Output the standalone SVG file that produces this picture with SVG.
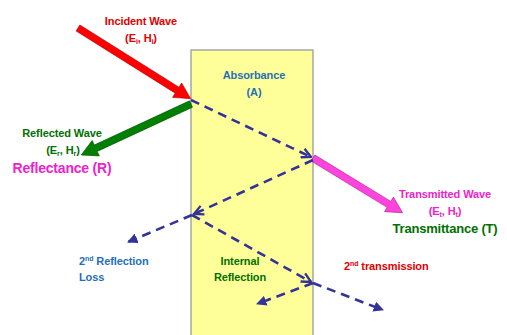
<svg xmlns="http://www.w3.org/2000/svg" width="507" height="335" viewBox="0 0 507 335">
<defs>
<marker id="chev" viewBox="0 0 10 10" refX="9" refY="5" markerWidth="4.5" markerHeight="4.5" orient="auto" markerUnits="strokeWidth">
<path d="M1,1 L9,5 L1,9" fill="none" stroke="#333399" stroke-width="2"/>
</marker>
<marker id="tri" viewBox="0 0 10 10" refX="9" refY="5" markerWidth="4" markerHeight="4" orient="auto" markerUnits="strokeWidth">
<path d="M0,0 L10,5 L0,10 Z" fill="#333399"/>
</marker>
</defs>
<style>
text{font-family:"Liberation Sans",Arial,sans-serif;font-weight:bold;font-size:11px;letter-spacing:-0.1px}
.red{fill:#E00000}
.grn{fill:#007000}
.mag{fill:#EE22CC}
.blu{fill:#1F6FB8}
.big{font-size:14px;letter-spacing:-0.2px}
.dash{fill:none;stroke:#333399;stroke-width:2.6;stroke-dasharray:9,6}
.s{font-size:7px}
</style>
<g id="slab">
<rect x="191" y="50" width="122" height="290" fill="#FFFF99" stroke="#A0A0A0" stroke-width="1.4"/>
</g>
<g id="connectors">
<g id="incident" transform="translate(78,28) rotate(32.1)">
<polygon points="0,-3.5 117,-3.5 117,-8.5 133,0 117,8.5 117,3.5 0,3.5" fill="#FF0000" stroke="#B00000" stroke-width="0.6"/>
</g>
<g id="reflected" transform="translate(191,104) rotate(155.1)">
<polygon points="0,-3.5 105,-3.5 105,-8.5 121,0 105,8.5 105,3.5 0,3.5" fill="#008000" stroke="#005000" stroke-width="0.6"/>
</g>
<g id="transmitted" transform="translate(313,158) rotate(31.4)">
<polygon points="0,-3.5 89,-3.5 89,-8.5 105,0 89,8.5 89,3.5 0,3.5" fill="#FF44DD" stroke="#B0209A" stroke-width="0.6"/>
</g>
<path class="dash" d="M191,100 L311,157" marker-end="url(#chev)"/>
<path class="dash" d="M313,160 L194,214" marker-end="url(#chev)"/>
<path class="dash" d="M192,215 L128,242" marker-end="url(#tri)"/>
<path class="dash" d="M192,215 L311,282" marker-end="url(#chev)"/>
<path class="dash" d="M313,283 L383,310" marker-end="url(#tri)"/>
<path class="dash" d="M313,283 L257,304" marker-end="url(#tri)"/>
</g>
<g id="incident-label">
<text class="red" x="141" y="25" text-anchor="middle">Incident Wave</text>
<text class="red" x="141" y="42" text-anchor="middle">(E<tspan class="s" dy="2">i</tspan><tspan dy="-2">, H</tspan><tspan class="s" dy="2">i</tspan><tspan dy="-2">)</tspan></text>
</g>
<g id="reflected-label">
<text class="grn" x="62" y="137" text-anchor="middle">Reflected Wave</text>
<text class="grn" x="63" y="154" text-anchor="middle">(E<tspan class="s" dy="2">r</tspan><tspan dy="-2">, H</tspan><tspan class="s" dy="2">r</tspan><tspan dy="-2">)</tspan></text>
<text class="mag big" x="62" y="173" text-anchor="middle">Reflectance (R)</text>
</g>
<g id="absorbance-label">
<text class="blu" x="254" y="79" text-anchor="middle">Absorbance</text>
<text class="blu" x="254" y="96" text-anchor="middle">(A)</text>
</g>
<g id="transmitted-label">
<text class="mag" x="445" y="198" text-anchor="middle">Transmitted Wave</text>
<text class="mag" x="445" y="215" text-anchor="middle">(E<tspan class="s" dy="2">t</tspan><tspan dy="-2">, H</tspan><tspan class="s" dy="2">t</tspan><tspan dy="-2">)</tspan></text>
<text class="grn big" x="445" y="233" text-anchor="middle" style="font-size:13px">Transmittance (T)</text>
</g>
<g id="loss-label">
<text class="blu" x="79" y="265">2<tspan class="s" dy="-4">nd</tspan><tspan dy="4"> Reflection</tspan></text>
<text class="blu" x="79" y="281">Loss</text>
</g>
<g id="internal-label">
<text class="grn" x="240" y="265" text-anchor="middle">Internal</text>
<text class="grn" x="240" y="281" text-anchor="middle">Reflection</text>
</g>
<g id="second-transmission-label">
<text class="red" x="344" y="270">2<tspan class="s" dy="-4">nd</tspan><tspan dy="4"> transmission</tspan></text>
</g>
</svg>
